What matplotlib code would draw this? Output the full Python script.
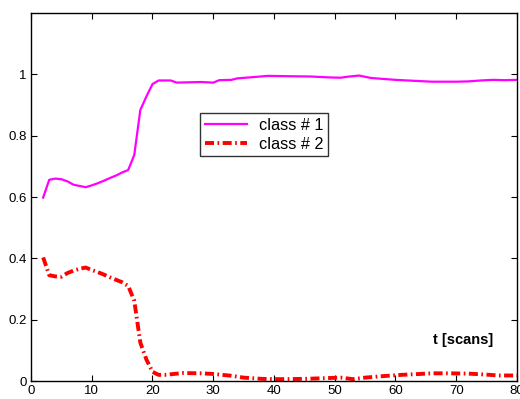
import matplotlib
matplotlib.use("Agg")
import matplotlib.pyplot as plt

plt.rcParams['font.family'] = ['Liberation Sans', 'DejaVu Sans']
plt.rcParams['lines.scale_dashes'] = False

x1 = [2, 3, 4, 5, 6, 7, 8, 9, 10, 11, 12, 13, 14, 15, 16, 17, 18, 19, 20, 21, 23, 24, 26, 28, 30, 31, 33, 34, 36, 39, 42, 46, 49, 51, 52, 54, 56, 58, 60, 63, 66, 70, 72, 74, 76, 78, 80]
class1 = [0.598, 0.656, 0.660, 0.658, 0.651, 0.640, 0.636, 0.632, 0.638, 0.645, 0.653, 0.662, 0.670, 0.680, 0.688, 0.737, 0.884, 0.928, 0.968, 0.980, 0.980, 0.973, 0.974, 0.975, 0.973, 0.981, 0.982, 0.987, 0.990, 0.995, 0.994, 0.993, 0.990, 0.989, 0.992, 0.996, 0.988, 0.985, 0.982, 0.979, 0.976, 0.976, 0.977, 0.980, 0.982, 0.981, 0.982]

x2 = [2, 3, 4, 5, 6, 7, 8, 9, 10, 11, 12, 13, 14, 15, 16, 17, 18, 19, 20, 21, 22, 25, 28, 30, 33, 35, 38, 41, 45, 48, 51, 53, 55, 58, 61, 64, 66, 69, 72, 74, 77, 80]
class2 = [0.403, 0.345, 0.341, 0.340, 0.352, 0.360, 0.366, 0.370, 0.362, 0.355, 0.347, 0.338, 0.330, 0.322, 0.310, 0.262, 0.125, 0.070, 0.030, 0.020, 0.020, 0.026, 0.025, 0.023, 0.017, 0.011, 0.007, 0.006, 0.007, 0.009, 0.011, 0.006, 0.011, 0.016, 0.020, 0.023, 0.025, 0.025, 0.024, 0.022, 0.018, 0.018]

xticks = [0, 10, 20, 30, 40, 50, 60, 70, 80]
yticks = [0, 0.2, 0.4, 0.6, 0.8, 1]
ytick_labels = ['0', '0.2', '0.4', '0.6', '0.8', '1']

fig = plt.figure(figsize=(5.2, 3.99), dpi=100)
ax = fig.add_axes([0.0596, 0.0451, 0.9346, 0.9223])

ax.plot(x1, class1, color='#ff00ff', lw=1.6, label='class # 1')
ln, = ax.plot(x2, class2, color='#ff0000', lw=2.8, label='class # 2')
ln.set_dashes((6.5, 2.5, 1.2, 2.5))

ax.set_xlim(0, 80)
ax.set_ylim(0, 1.2)
ax.set_xticks(xticks)
ax.set_xticklabels([str(v) for v in xticks])
ax.set_yticks(yticks)
ax.set_yticklabels(ytick_labels)
ax.tick_params(direction='in', top=True, right=True, length=4, width=0.8,
               labelsize=9.5, pad=3)
for s in ax.spines.values():
    s.set_linewidth(1.0)

ax.text(71.2, 0.134, 't [scans]', fontsize=10.5, fontweight='bold',
        ha='center', va='center')

leg = ax.legend(loc='upper left', bbox_to_anchor=(0.348, 0.728), fontsize=11.7,
                frameon=True, fancybox=False, edgecolor='black',
                handlelength=2.6, borderpad=0.3, labelspacing=0.22,
                handletextpad=0.7, borderaxespad=0)
leg.get_frame().set_linewidth(1.0)

fig.savefig('out.png', dpi=100)
